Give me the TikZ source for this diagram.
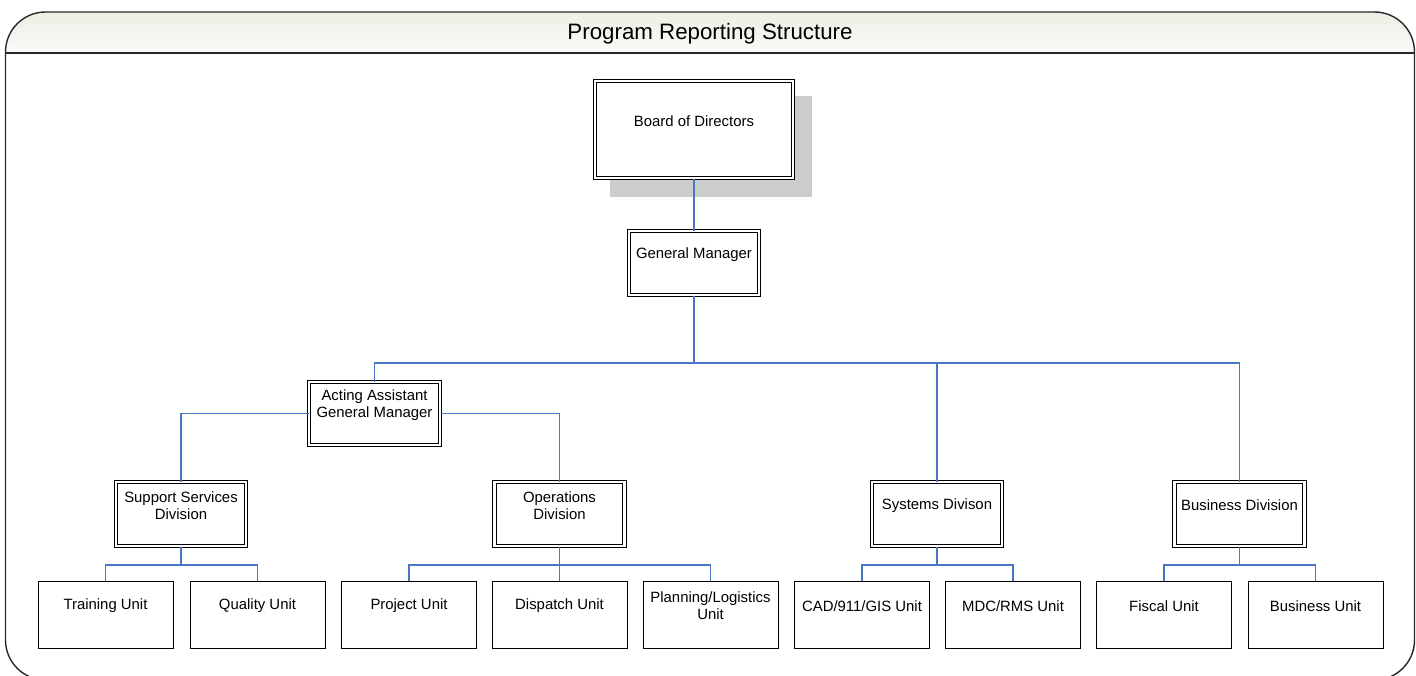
\documentclass[tikz,border=0pt]{standalone}
\usepackage{fontspec}
\setmainfont{Liberation Sans}
\definecolor{conn}{RGB}{72,118,196}
\definecolor{shadowgray}{RGB}{204,204,204}
\definecolor{frameline}{RGB}{40,40,40}
\tikzset{
  boxfont/.style={font=\fontsize{7.45}{8.5}\selectfont, align=center},
  dblbox/.style={draw=black, line width=0.5pt, double=white, double distance=1.3pt,
    minimum width=65pt, minimum height=32pt, inner sep=0pt},
  unitbox/.style={draw=black, line width=0.5pt, minimum width=67.5pt, minimum height=33.5pt, inner sep=0pt},
  txt/.style={boxfont, yshift=4.3pt},
  conn/.style={draw=conn, line width=0.55pt},
  bl/.style={label={[txt]center:{#1}}},
}
\begin{document}
\begin{tikzpicture}[x=0.5pt,y=-0.5pt]
\useasboundingbox (0,0) rectangle (1416,675);
% frame
\begin{scope}
\clip (0,0) rectangle (1416,675);
\fill[white] (5.5,12) [rounded corners=20pt] rectangle (1414.5,680);
\shade[top color={rgb,255:red,238;green,238;blue,230}, bottom color={rgb,255:red,250;green,250;blue,247}]
  (5.5,53) [rounded corners=20pt] -- (5.5,12) -- (1414.5,12) [sharp corners] -- (1414.5,53) -- cycle;
\draw[frameline, line width=0.7pt, rounded corners=20pt] (5.5,12) rectangle (1414.5,680);
\draw[frameline, line width=1.1pt] (5.5,53) -- (1414.5,53);
\end{scope}
\node[font=\fontsize{11.15}{13}\selectfont] (title) at (710,34) {Program Reporting Structure};

% shadow
\fill[shadowgray] (610,96) rectangle (812,197);

% main boxes
\node[dblbox, fill=white, minimum width=99pt, minimum height=48.5pt, bl={Board of Directors}] (bod) at (694,129.5) {};
\node[dblbox, bl={General Manager}] (gm) at (694,263) {};
\node[dblbox, minimum width=65.5pt, minimum height=31.5pt, bl={Acting Assistant\\General Manager}] (aagm) at (374.5,413.5) {};
\node[dblbox, bl={Support Services\\Division}] (ssd) at (181,514) {};
\node[dblbox, bl={Operations\\Division}] (ops) at (559.5,514) {};
\node[dblbox, bl={Systems Divison}] (sys) at (937,514) {};
\node[dblbox, bl={Business Division}] (bus) at (1239.5,514) {};

% units
\node[unitbox, bl={Training Unit}] (tr) at (105.5,614.5) {};
\node[unitbox, bl={Quality Unit}] (qu) at (257.5,614.5) {};
\node[unitbox, bl={Project Unit}] (pr) at (409,614.5) {};
\node[unitbox, bl={Dispatch Unit}] (di) at (559.5,614.5) {};
\node[unitbox, bl={Planning/Logistics\\Unit}] (pl) at (710.5,614.5) {};
\node[unitbox, bl={CAD/911/GIS Unit}] (cad) at (862,614.5) {};
\node[unitbox, bl={MDC/RMS Unit}] (mdc) at (1013,614.5) {};
\node[unitbox, bl={Fiscal Unit}] (fi) at (1164,614.5) {};
\node[unitbox, bl={Business Unit}] (bu) at (1315.5,614.5) {};

% connectors
\draw[conn] (bod.south) -- (gm.north);
\draw[conn] (gm.south) |- (aagm.north |- 0,363) -- (aagm.north);
\draw[conn] (gm.south) |- (sys.north |- 0,363) -- (sys.north);
\draw[conn] (gm.south) |- (bus.north |- 0,363) -- (bus.north);
\draw[conn] (aagm.west) -| (ssd.north);
\draw[conn] (aagm.east) -| (ops.north);
\foreach \p/\c in {ssd/tr, ssd/qu, ops/pr, ops/di, ops/pl, sys/cad, sys/mdc, bus/fi, bus/bu}{
  \draw[conn] (\p.south) -- (\p.south |- 0,565) -| (\c.north);
}
\end{tikzpicture}
\end{document}
